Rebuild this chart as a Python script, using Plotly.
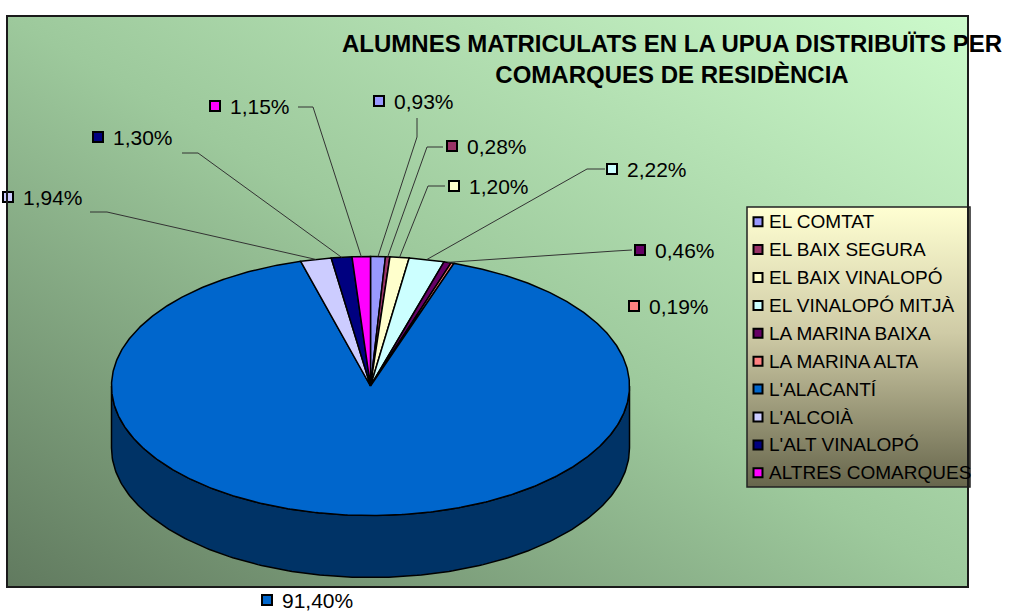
import base64
import numpy as np
import plotly.graph_objects as go

# ---------------- data ----------------
regions = ["EL COMTAT", "EL BAIX SEGURA", "EL BAIX VINALOPÓ", "EL VINALOPÓ MITJÀ",
           "LA MARINA BAIXA", "LA MARINA ALTA", "L'ALACANTÍ", "L'ALCOIÀ",
           "L'ALT VINALOPÓ", "ALTRES COMARQUES"]
shares = [0.93, 0.28, 1.20, 2.22, 0.46, 0.19, 91.40, 1.94, 1.30, 1.15]
colors = ["#9999FF", "#993366", "#FFFFCC", "#CCFFFF", "#660066", "#FF8080",
          "#0066CC", "#CCCCFF", "#000080", "#FF00FF"]
title_text = "<b>ALUMNES MATRICULATS EN LA UPUA DISTRIBUÏTS PER<br>COMARQUES DE RESIDÈNCIA</b>"

# ---------------- layout constants (pixel space) ----------------
W, H = 1010, 613
CX, CY, RX, RY, DEPTH = 370.5, 386.0, 259.0, 129.5, 62.0
FONT = "Liberation Sans, Arial, sans-serif"

# label placement: marker centre, and leader-line elbow points (None = no leader)
label_pos = [(379, 101), (452, 146), (454, 186), (612, 169), (640, 250),
             (634, 306), (267, 600), (8, 197), (98, 137), (215, 106)]
leader_pts = [[(417, 118), (417, 137)], [(443, 147), (427, 147)],
              [(445, 186), (428, 186)], [(605, 169), (587, 169)],
              [(632, 250), (615, 251)], None, None,
              [(90, 212), (107, 212)], [(182, 153), (198, 153)],
              [(298, 107), (313, 107)]]


def rim(theta_deg, dy=0.0):
    t = np.radians(theta_deg)
    return CX + RX * np.sin(t), CY - RY * np.cos(t) + dy


def darker(hexc, f=0.5):
    h = hexc.lstrip("#")
    r, g, b = (int(h[i:i + 2], 16) for i in (0, 2, 4))
    return "#%02x%02x%02x" % (int(r * f), int(g * f), int(b * f))


total = sum(shares)
cum = np.concatenate([[0], np.cumsum(shares)]) / total * 360.0

fig = go.Figure()

# ---------------- side walls (front half only) ----------------
for i, c in enumerate(colors):
    a, b = cum[i], cum[i + 1]
    lo, hi = max(a, 90.0), min(b, 270.0)
    if hi > lo:
        th = np.linspace(lo, hi, 200)
        xt, yt = rim(th)
        xb, yb = rim(th[::-1], DEPTH)
        xs = np.concatenate([xt, xb, xt[:1]])
        ys = np.concatenate([yt, yb, yt[:1]])
        fig.add_trace(go.Scatter(x=xs, y=ys, mode="lines", fill="toself",
                                 fillcolor=darker(c), line=dict(color="black", width=1.5),
                                 hoverinfo="skip", showlegend=False))

# ---------------- top face slices ----------------
for i, c in enumerate(colors):
    a, b = cum[i], cum[i + 1]
    th = np.linspace(a, b, max(4, int((b - a) * 2)))
    xr, yr = rim(th)
    xs = np.concatenate([[CX], xr, [CX]])
    ys = np.concatenate([[CY], yr, [CY]])
    fig.add_trace(go.Scatter(x=xs, y=ys, mode="lines", fill="toself",
                             fillcolor=c, line=dict(color="black", width=1.5),
                             hoverinfo="skip", showlegend=False))

# ---------------- leader lines ----------------
for i, pts in enumerate(leader_pts):
    if pts is None:
        continue
    mid = (cum[i] + cum[i + 1]) / 2
    ex, ey = rim(mid)
    xs = [p[0] for p in pts] + [float(ex)]
    ys = [p[1] for p in pts] + [float(ey)]
    fig.add_trace(go.Scatter(x=xs, y=ys, mode="lines",
                             line=dict(color="#333333", width=1),
                             hoverinfo="skip", showlegend=False))

# ---------------- data labels ----------------
fig.add_trace(go.Scatter(
    x=[p[0] for p in label_pos], y=[p[1] for p in label_pos], mode="markers",
    marker=dict(symbol="square", size=10, color=colors,
                line=dict(color="black", width=2)),
    hoverinfo="skip", showlegend=False))
annotations = []
for i, (px, py) in enumerate(label_pos):
    txt = f"{shares[i]:.2f}".replace(".", ",") + "%"
    annotations.append(dict(x=px + 13, y=py, xref="x", yref="y", text=txt,
                            showarrow=False, xanchor="left", yanchor="middle",
                            font=dict(family=FONT, size=21, color="black")))

# ---------------- legend (manual) ----------------
LX0, LY0, LX1, LY1 = 747, 207, 970, 487
leg_y = [221.7 + 27.9 * k for k in range(len(regions))]
fig.add_trace(go.Scatter(
    x=[758] * len(regions), y=leg_y, mode="markers",
    marker=dict(symbol="square", size=9, color=colors,
                line=dict(color="black", width=2)),
    hoverinfo="skip", showlegend=False))
for k, name in enumerate(regions):
    annotations.append(dict(x=767, y=leg_y[k], xref="x", yref="y", text=name,
                            showarrow=False, xanchor="left", yanchor="middle",
                            font=dict(family=FONT, size=19, color="black")))


# ---------------- gradient backgrounds ----------------
def svg_uri(w, h, grad, stops):
    st = "".join(f'<stop offset="{o}" stop-color="{c}"/>' for o, c in stops)
    svg = (f'<svg xmlns="http://www.w3.org/2000/svg" width="{w}" height="{h}" '
           f'viewBox="0 0 {w} {h}" preserveAspectRatio="none"><defs>'
           f'<linearGradient id="g" {grad}>{st}</linearGradient></defs>'
           f'<rect x="0" y="0" width="{w}" height="{h}" fill="url(#g)"/></svg>')
    return "data:image/svg+xml;base64," + base64.b64encode(svg.encode()).decode()


BX0, BY0, BX1, BY1 = 7, 16, 968, 587
images = [
    dict(source=svg_uri(BX1 - BX0, BY1 - BY0, 'x1="0" y1="1" x2="1" y2="0"',
                        [(0, "#617a5f"), (0.5, "#9dc99c"), (1, "#ccfacb")]),
         xref="paper", yref="paper", x=BX0 / W, y=1 - BY0 / H,
         sizex=(BX1 - BX0) / W, sizey=(BY1 - BY0) / H,
         xanchor="left", yanchor="top", sizing="stretch", layer="below"),
    dict(source=svg_uri(LX1 - LX0, LY1 - LY0, 'x1="0" y1="0" x2="0" y2="1"',
                        [(0, "#ffffd2"), (0.45, "#cfcba6"), (1, "#67664c")]),
         xref="paper", yref="paper", x=LX0 / W, y=1 - LY0 / H,
         sizex=(LX1 - LX0) / W, sizey=(LY1 - LY0) / H,
         xanchor="left", yanchor="top", sizing="stretch", layer="below"),
]

shapes = [
    dict(type="rect", xref="x", yref="y", x0=BX0, y0=BY0, x1=BX1, y1=BY1,
         line=dict(color="#1a1a1a", width=2), fillcolor="rgba(0,0,0,0)", layer="above"),
    dict(type="rect", xref="x", yref="y", x0=LX0, y0=LY0, x1=LX1, y1=LY1,
         line=dict(color="#222222", width=1.5), fillcolor="rgba(0,0,0,0)", layer="below"),
]

fig.update_layout(
    width=W, height=H,
    margin=dict(l=0, r=0, t=0, b=0),
    paper_bgcolor="white", plot_bgcolor="white",
    xaxis=dict(range=[0, W], visible=False, fixedrange=True),
    yaxis=dict(range=[H, 0], visible=False, fixedrange=True),
    title=dict(text=title_text, x=672 / W, y=1 - 52 / H, xanchor="center",
               yanchor="middle", xref="paper", yref="paper",
               font=dict(family=FONT, size=24, color="black")),
    annotations=annotations, shapes=shapes, images=images,
    showlegend=False,
)

fig.write_html(
    "out.html",
    config={"displayModeBar": False},
    post_script="document.body.style.margin='0';document.body.style.padding='0';"
                "document.body.style.overflow='hidden';",
)
